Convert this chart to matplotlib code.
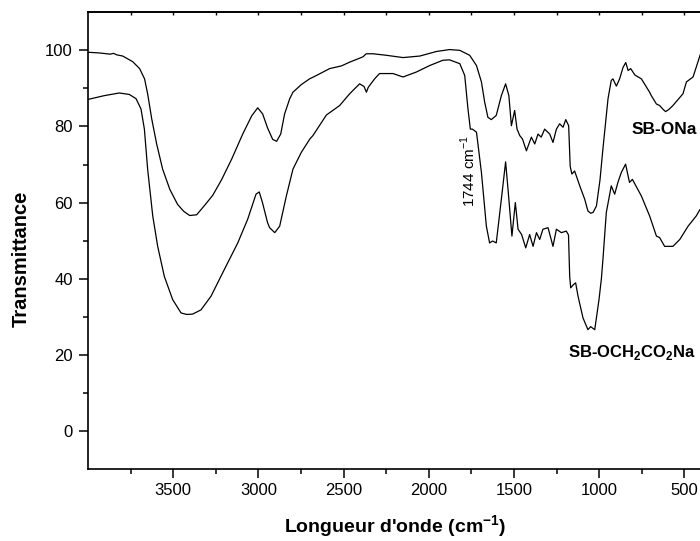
import matplotlib
matplotlib.use("Agg")
import matplotlib.pyplot as plt
from matplotlib.ticker import FixedLocator

plt.rcParams["font.family"] = ["Liberation Sans", "DejaVu Sans"]
plt.rcParams["mathtext.fontset"] = "custom"
plt.rcParams["mathtext.rm"] = "Liberation Sans"
plt.rcParams["mathtext.bf"] = "Liberation Sans:bold"

# SB-ONa (upper spectrum), wavenumber in cm-1 / % transmittance
ona_wn = [4000, 3930, 3870, 3850, 3830, 3796, 3737, 3697, 3668, 3650, 3626, 3597,
          3562, 3520, 3474, 3438, 3403, 3362, 3315, 3268, 3216, 3157, 3092, 3039,
          3004, 2975, 2946, 2916, 2893, 2869, 2846, 2816, 2797, 2748, 2700, 2659,
          2582, 2513, 2464, 2386, 2367, 2328, 2249, 2151, 2053, 1955, 1878, 1818,
          1760, 1720, 1691, 1672, 1653, 1633, 1604, 1574, 1549, 1530, 1515, 1496,
          1482, 1466, 1450, 1427, 1398, 1378, 1359, 1340, 1320, 1290, 1271, 1251,
          1232, 1212, 1196, 1179, 1170, 1160, 1144, 1114, 1085, 1066, 1050, 1036,
          1016, 995, 978, 948, 929, 919, 899, 880, 860, 844, 830, 815, 790, 752,
          704, 694, 664, 645, 625, 610, 590, 567, 508, 488, 449, 420, 408, 400]
ona_t = [99.5, 99.3, 99.0, 99.2, 98.8, 98.5, 97.0, 95.2, 92.5, 88.6, 82.0, 75.4,
         68.8, 63.5, 59.5, 57.7, 56.6, 56.8, 59.3, 61.9, 66.0, 71.4, 78.0, 82.8,
         84.9, 83.3, 79.6, 76.6, 76.1, 78.0, 83.3, 87.3, 89.0, 91.0, 92.5, 93.4,
         95.2, 95.9, 96.9, 98.3, 99.1, 99.1, 98.7, 98.1, 98.5, 99.7, 100.2, 100.0,
         98.7, 96.0, 91.7, 86.4, 82.4, 81.8, 82.9, 88.1, 91.2, 88.1, 80.2, 84.2,
         79.3, 77.6, 76.7, 73.6, 77.2, 75.4, 78.0, 77.2, 79.3, 78.0, 75.8, 79.3,
         80.7, 79.8, 81.8, 80.2, 69.5, 67.5, 68.3, 64.4, 60.9, 57.8, 57.2, 57.4,
         59.1, 66.0, 74.1, 87.3, 92.1, 92.5, 90.6, 92.5, 95.5, 96.8, 94.7, 95.2,
         93.5, 92.5, 89.0, 88.1, 85.9, 85.5, 84.5, 83.9, 84.5, 85.5, 88.6, 91.7,
         93.0, 97.0, 98.7, 99.6]

# SB-OCH2CO2Na (lower spectrum)
och_wn = [4000, 3904, 3816, 3757, 3718, 3689, 3669, 3650, 3620, 3591, 3552, 3503,
          3454, 3420, 3386, 3337, 3278, 3200, 3121, 3063, 3014, 2995, 2976, 2946,
          2934, 2904, 2875, 2836, 2797, 2748, 2698, 2680, 2601, 2523, 2464, 2406,
          2380, 2366, 2355, 2318, 2289, 2210, 2151, 2073, 1995, 1917, 1878, 1818,
          1789, 1770, 1756, 1744, 1720, 1691, 1662, 1643, 1625, 1604, 1574, 1549,
          1530, 1512, 1492, 1476, 1455, 1431, 1408, 1388, 1368, 1349, 1330, 1300,
          1271, 1251, 1222, 1193, 1180, 1173, 1167, 1150, 1138, 1124, 1095, 1066,
          1050, 1026, 1001, 987, 978, 958, 929, 909, 890, 870, 845, 822, 805, 752,
          704, 664, 645, 616, 567, 527, 478, 430, 408, 400]
och_t = [87.1, 88.1, 88.8, 88.4, 87.3, 84.6, 79.3, 68.8, 56.5, 48.5, 40.6, 34.5,
         31.0, 30.6, 30.7, 31.8, 35.4, 42.4, 49.4, 55.6, 62.2, 62.8, 60.0, 54.7,
         53.4, 52.1, 53.8, 61.7, 68.8, 73.2, 76.7, 77.6, 83.0, 85.5, 88.6, 91.2,
         90.5, 89.0, 90.3, 92.5, 93.9, 93.9, 93.0, 94.3, 96.0, 97.4, 97.5, 96.5,
         93.4, 84.6, 79.3, 79.3, 78.5, 67.9, 53.8, 49.4, 49.9, 49.4, 60.9, 70.7,
         60.9, 51.2, 60.0, 53.0, 51.6, 48.1, 51.6, 48.5, 52.1, 50.3, 53.0, 53.4,
         48.5, 53.0, 52.1, 52.5, 51.5, 40.6, 37.6, 38.5, 38.9, 35.4, 29.7, 26.6,
         27.4, 26.6, 34.5, 40.0, 45.0, 57.4, 64.4, 62.2, 65.3, 67.9, 70.1, 65.3,
         66.1, 61.7, 56.5, 51.2, 50.8, 48.5, 48.5, 50.3, 53.8, 56.5, 58.2, 58.5]

x_major = [500, 1000, 1500, 2000, 2500, 3000, 3500]
x_minor = [750, 1250, 1750, 2250, 2750, 3250, 3750]
y_major = [0, 20, 40, 60, 80, 100]
y_minor = [10, 30, 50, 70, 90]


def main():
    fig = plt.figure(figsize=(7.0, 5.41), dpi=100)
    ax = fig.add_axes([0.1257, 0.1331, 0.8763, 0.8442])

    ax.plot(ona_wn, ona_t, color="black", lw=0.9)
    ax.plot(och_wn, och_t, color="black", lw=0.9)

    ax.set_xlim(4000, 400)
    ax.set_ylim(-10, 110)
    ax.xaxis.set_major_locator(FixedLocator(x_major))
    ax.xaxis.set_minor_locator(FixedLocator(x_minor))
    ax.yaxis.set_major_locator(FixedLocator(y_major))
    ax.yaxis.set_minor_locator(FixedLocator(y_minor))

    for side in ["left", "bottom", "top"]:
        ax.spines[side].set_linewidth(1.2)
    ax.spines["right"].set_visible(False)

    ax.tick_params(which="major", direction="out", length=6.5, width=1.1,
                   labelsize=12, top=False)
    ax.tick_params(which="minor", direction="out", length=3.5, width=1.1, top=False)
    ax.tick_params(axis="x", pad=3.5)
    ax.tick_params(axis="y", pad=4.5)

    # short inward ticks along the top edge
    top = ax.secondary_xaxis("top")
    top.set_xticks(x_major + x_minor)
    top.tick_params(direction="in", length=2.5, width=1.0, labeltop=False)
    top.spines["top"].set_linewidth(1.2)

    ax.set_xlabel("Longueur d'onde (cm$^{\\mathbf{-1}}$)", fontsize=14,
                  fontweight="bold", va="center")
    ax.xaxis.set_label_coords(0.5, -0.127)
    ax.set_ylabel("Transmittance", fontsize=14.5, fontweight="bold", va="center")
    ax.yaxis.set_label_coords(-0.109, 0.46)

    ax.text(428, 78.0, "SB-ONa", fontsize=12.5, fontweight="bold",
            ha="right", va="baseline")
    ax.text(428, 19.3, "SB-OCH$_\\mathbf{2}$CO$_\\mathbf{2}$Na", fontsize=12,
            fontweight="bold", ha="right", va="baseline")
    ax.text(1730, 68.3, "1744 cm$^{-1}$", fontsize=11, rotation=90,
            rotation_mode="anchor", ha="center", va="baseline")

    fig.savefig("out.png", dpi=100)
    plt.close(fig)


if __name__ == "__main__":
    main()
